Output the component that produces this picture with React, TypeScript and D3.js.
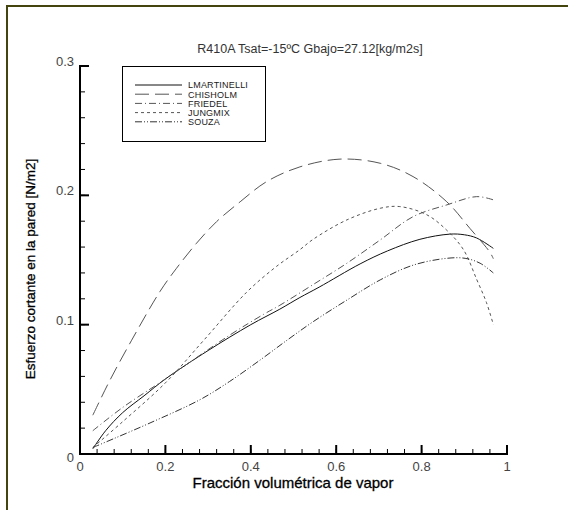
import React from "react";
import * as d3 from "d3";

const W = 568;
const H = 510;

const title = "R410A Tsat=-15ºC Gbajo=27.12[kg/m2s]";
const xLabel = "Fracción volumétrica de vapor";
const yLabel = "Esfuerzo cortante en la pared [N/m2]";

const seriesNames = ["LMARTINELLI", "CHISHOLM", "FRIEDEL", "JUNGMIX", "SOUZA"];

const lmartinelliX = [0.03, 0.06, 0.1, 0.15, 0.2, 0.3, 0.4, 0.468, 0.515, 0.56, 0.656, 0.72, 0.796, 0.866, 0.9, 0.929, 0.968];
const lmartinelliY = [0.004, 0.018, 0.032, 0.045, 0.058, 0.08, 0.1, 0.112, 0.121, 0.129, 0.147, 0.157, 0.166, 0.17, 0.1695, 0.167, 0.159];

const chisholmX = [0.03, 0.07, 0.121, 0.187, 0.226, 0.273, 0.32, 0.375, 0.437, 0.515, 0.609, 0.703, 0.78, 0.859, 0.913, 0.96, 0.968];
const chisholmY = [0.03, 0.057, 0.088, 0.1255, 0.1436, 0.163, 0.1797, 0.195, 0.2106, 0.222, 0.228, 0.2248, 0.2145, 0.195, 0.1745, 0.156, 0.151];

const friedelX = [0.03, 0.1, 0.2, 0.351, 0.43, 0.468, 0.546, 0.625, 0.703, 0.78, 0.859, 0.929, 0.968];
const friedelY = [0.018, 0.036, 0.058, 0.092, 0.108, 0.115, 0.131, 0.1475, 0.1655, 0.1835, 0.1926, 0.199, 0.1965];

const jungmixX = [0.03, 0.1, 0.2, 0.29, 0.39, 0.46, 0.515, 0.546, 0.625, 0.703, 0.749, 0.812, 0.859, 0.898, 0.929, 0.952, 0.968];
const jungmixY = [0.005, 0.025, 0.055, 0.088, 0.125, 0.145, 0.158, 0.166, 0.181, 0.19, 0.1913, 0.185, 0.173, 0.158, 0.135, 0.117, 0.1];

const souzaX = [0.03, 0.08, 0.164, 0.281, 0.35, 0.422, 0.487, 0.546, 0.625, 0.703, 0.78, 0.859, 0.902, 0.937, 0.968];
const souzaY = [0.005, 0.012, 0.024, 0.042, 0.056, 0.0727, 0.0885, 0.1023, 0.119, 0.1346, 0.146, 0.1513, 0.1513, 0.1475, 0.14];

const xTicks = [0, 0.2, 0.4, 0.6, 0.8, 1];
const yTicks = [0, 0.1, 0.2, 0.3];

const dashes = ["", "14,6", "7,3,1,3", "3,3", "7,2,1,2,1,2"];
const colors = ["#111", "#555", "#555", "#555", "#333"];

export default function App() {
  const x = d3.scaleLinear().domain([0, 1]).range([80, 507]);
  const y = d3.scaleLinear().domain([0, 0.3]).range([454, 66]);

  const data = [
    [lmartinelliX, lmartinelliY],
    [chisholmX, chisholmY],
    [friedelX, friedelY],
    [jungmixX, jungmixY],
    [souzaX, souzaY],
  ].map(([xs, ys]) => xs.map((v, i) => [v, ys[i]] as [number, number]));

  const line = d3
    .line<[number, number]>()
    .x((d) => x(d[0]))
    .y((d) => y(d[1]))
    .curve(d3.curveCatmullRom.alpha(0.5));

  const xMinor = d3.range(0, 1.0001, 0.04);
  const yMinor = d3.range(0, 0.3001, 0.02);

  const font = "Liberation Sans, Arial, sans-serif";

  const legX = 122.5;
  const legY = 66.5;
  const legRowY = (i: number) => 85 + i * 9.2;

  return (
    <svg
      width={W}
      height={H}
      style={{ position: "absolute", left: 0, top: 0, background: "#fff" }}
      fontFamily={font}
    >
      <rect x={0} y={0} width={W} height={H} fill="#fff" />
      {/* frame */}
      <line x1={6} y1={6} x2={W} y2={6} stroke="#44440f" strokeWidth={2} />
      <line x1={7} y1={5} x2={7} y2={H} stroke="#44440f" strokeWidth={2} />

      <text x={310} y={53} textAnchor="middle" fontSize={12.5} fill="#333">
        {title}
      </text>

      {/* series */}
      {data.map((pts, i) => (
        <path
          key={i}
          d={line(pts) || ""}
          fill="none"
          stroke={colors[i]}
          strokeWidth={1}
          strokeDasharray={dashes[i] || undefined}
        />
      ))}

      {/* axes */}
      <line x1={x(0)} y1={y(0)} x2={x(1) + 1} y2={y(0)} stroke="#000" strokeWidth={2} />
      <line x1={x(0)} y1={y(0) + 1} x2={x(0)} y2={y(0.3) - 1} stroke="#000" strokeWidth={2} />
      {xMinor.map((t, i) => (
        <line key={"xm" + i} x1={x(t)} x2={x(t)} y1={y(0)} y2={y(0) - 5} stroke="#000" strokeWidth={1} />
      ))}
      {xTicks.map((t, i) => (
        <line key={"xM" + i} x1={x(t)} x2={x(t)} y1={y(0)} y2={y(0) - 9} stroke="#000" strokeWidth={2} />
      ))}
      {yMinor.map((t, i) => (
        <line key={"ym" + i} x1={x(0)} x2={x(0) + 5} y1={y(t)} y2={y(t)} stroke="#000" strokeWidth={1} />
      ))}
      {yTicks.map((t, i) => (
        <line key={"yM" + i} x1={x(0)} x2={x(0) + 9} y1={y(t)} y2={y(t)} stroke="#000" strokeWidth={2} />
      ))}
      {xTicks.map((t, i) => (
        <text key={"xl" + i} x={x(t)} y={y(0) + 17} textAnchor="middle" fontSize={13} fill="#444">
          {t === 0 || t === 1 ? String(t) : t.toFixed(1)}
        </text>
      ))}
      {yTicks.map((t, i) => (
        <text key={"yl" + i} x={x(0) - 6} y={y(t) + (t === 0 ? 8 : 0)} textAnchor="end" fontSize={13} fill="#444">
          {t === 0 ? "0" : t.toFixed(1)}
        </text>
      ))}

      <text x={293} y={488} textAnchor="middle" fontSize={15} fill="#000" stroke="#000" strokeWidth={0.3}>
        {xLabel}
      </text>
      <text
        transform={`translate(35,269) rotate(-90)`}
        textAnchor="middle"
        fontSize={13.5}
        fill="#000"
        stroke="#000"
        strokeWidth={0.3}
      >
        {yLabel}
      </text>

      {/* legend */}
      <rect x={legX} y={legY} width={143} height={75} fill="#fff" stroke="#000" strokeWidth={1} />
      {seriesNames.map((n, i) => (
        <g key={n}>
          <line
            x1={135}
            x2={182}
            y1={legRowY(i)}
            y2={legRowY(i)}
            stroke={colors[i]}
            strokeWidth={1}
            strokeDasharray={dashes[i] || undefined}
          />
          <text x={188} y={legRowY(i) + 3.3} fontSize={9} fill="#222" letterSpacing={0.2}>
            {n}
          </text>
        </g>
      ))}
    </svg>
  );
}
